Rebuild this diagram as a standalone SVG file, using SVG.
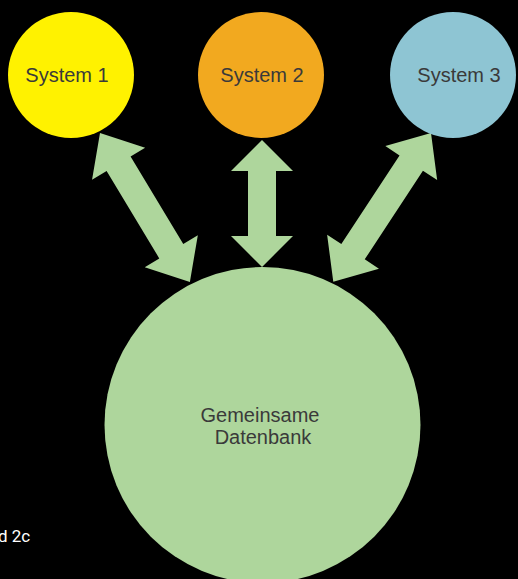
<svg xmlns="http://www.w3.org/2000/svg" width="518" height="579" viewBox="0 0 518 579">
<style>
.lbl{font-family:"Liberation Sans",Arial,sans-serif;font-size:20px;fill:#3a3a3a;text-anchor:middle}
.arr{fill:#aed69c}
</style>
<defs>
<path id="dbl" d="M0,0 L32,-30 L32,-14 L-32,-14 L-32,-30 L0,0 Z"/>
</defs>
<rect x="0" y="0" width="518" height="579" fill="#000"/>
<g id="connectors">
<path class="arr" transform="translate(262,140) rotate(90)" d="M0,0 L31,-31 L31,-14 L96,-14 L96,-31 L127,0 L96,31 L96,14 L31,14 L31,31 Z"/>
<path class="arr" transform="translate(100,133) rotate(58.9)" d="M0,0 L36,-31 L36,-14 L138,-14 L138,-31 L174,0 L138,31 L138,14 L36,14 L36,31 Z"/>
<path class="arr" transform="translate(431,133) rotate(123.3)" d="M0,0 L36,-31 L36,-14 L142,-14 L142,-31 L178,0 L142,31 L142,14 L36,14 L36,31 Z"/>
</g>
<g id="system1">
<circle cx="71" cy="75" r="63" fill="#fff200"/>
<text class="lbl" x="67" y="82">System 1</text>
</g>
<g id="system2">
<circle cx="261" cy="75" r="63" fill="#f2a91f"/>
<text class="lbl" x="262" y="82">System 2</text>
</g>
<g id="system3">
<circle cx="453" cy="75" r="63" fill="#8ec5d3"/>
<text class="lbl" x="459" y="82">System 3</text>
</g>
<g id="datenbank">
<circle cx="262.5" cy="425" r="158" fill="#aed69c"/>
<text class="lbl" x="260" y="422">Gemeinsame</text>
<text class="lbl" x="263" y="444">Datenbank</text>
</g>
<text x="-2" y="542" font-family="Roboto,'Liberation Sans',sans-serif" font-size="17" fill="#fff">d 2c</text>
</svg>
